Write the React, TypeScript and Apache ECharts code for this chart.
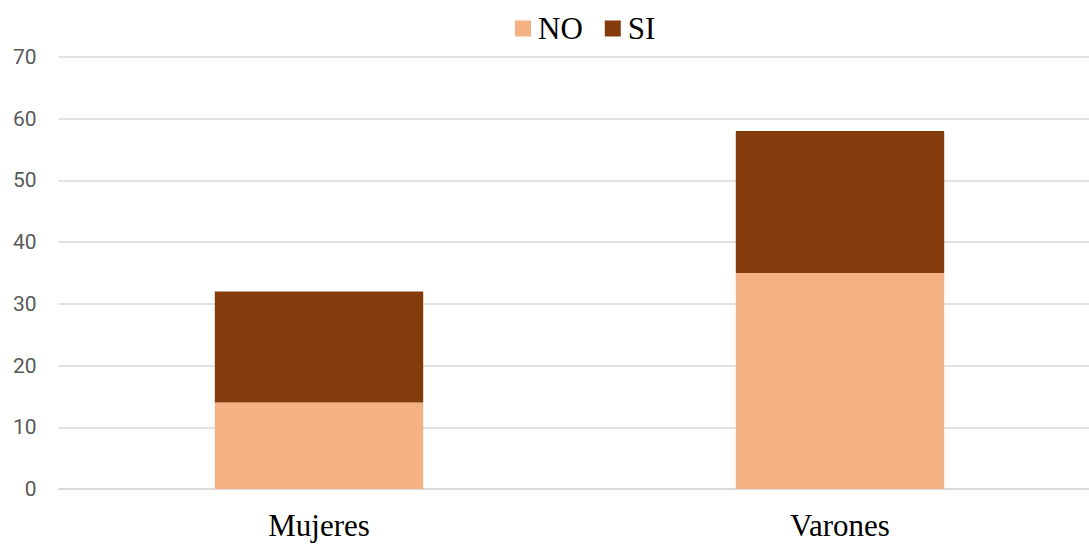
import React, { useEffect, useRef } from "react";
import * as echarts from "echarts";

const categories = ["Mujeres", "Varones"];
const noValues = [14, 35];
const siValues = [18, 23];
const yTicks = [0, 10, 20, 30, 40, 50, 60, 70];

export default function App() {
  const ref = useRef<HTMLDivElement>(null);

  useEffect(() => {
    document.body.style.margin = "0";
    const chart = echarts.init(ref.current!, null, { renderer: "svg" });
    chart.setOption({
      animation: false,
      backgroundColor: "#ffffff",
      legend: {
        top: 8,
        left: 510,
        itemWidth: 16,
        itemHeight: 16,
        itemGap: 22,
        icon: "rect",
        textStyle: {
          fontFamily: "Liberation Serif, Times New Roman, serif",
          fontSize: 31,
          color: "#000000",
          padding: [0, 0, 0, 2],
        },
        data: ["NO", "SI"],
      },
      grid: {
        left: 58.5,
        width: 1042,
        top: 57,
        height: 432,
        containLabel: false,
      },
      xAxis: {
        type: "category",
        data: categories,
        axisLine: { show: true, lineStyle: { color: "#d9d9d9", width: 1.5 } },
        axisTick: { show: false },
        axisLabel: {
          margin: 21,
          fontFamily: "Liberation Serif, Times New Roman, serif",
          fontSize: 31,
          color: "#000000",
        },
      },
      yAxis: {
        type: "value",
        min: yTicks[0],
        max: yTicks[yTicks.length - 1],
        interval: 10,
        axisLine: { show: false },
        axisTick: { show: false },
        splitLine: { lineStyle: { color: "#d9d9d9", width: 1.5 } },
        axisLabel: {
          margin: 22,
          fontFamily: "Roboto, sans-serif",
          fontSize: 21,
          color: "#595959",
        },
      },
      series: [
        {
          name: "NO",
          type: "bar",
          stack: "total",
          data: noValues,
          barWidth: "40%",
          itemStyle: { color: "#F4B183" },
        },
        {
          name: "SI",
          type: "bar",
          stack: "total",
          data: siValues,
          barWidth: "40%",
          itemStyle: { color: "#843C0C" },
        },
      ],
    });
    return () => chart.dispose();
  }, []);

  return (
    <div style={{ width: 1089, height: 545, overflow: "hidden", position: "relative" }}>
      <div ref={ref} style={{ width: 1101, height: 545, position: "absolute", left: 0, top: 0 }} />
    </div>
  );
}
